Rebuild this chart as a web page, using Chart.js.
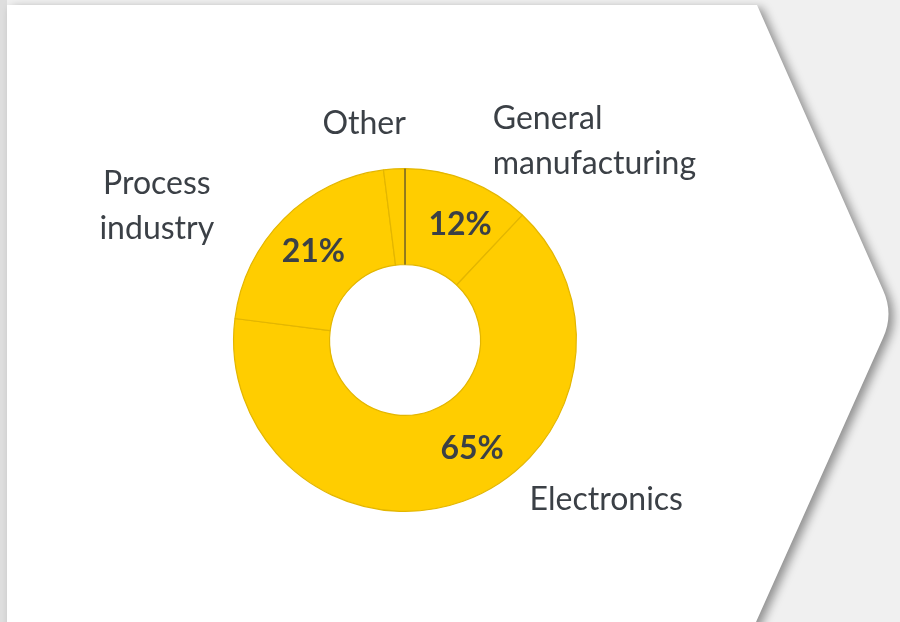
<!DOCTYPE html>
<html>
<head>
<meta charset="utf-8">
<script src="https://cdn.jsdelivr.net/npm/chart.js@4.4.0/dist/chart.umd.min.js"></script>
<style>
  html, body { margin: 0; padding: 0; background: #ececec; }
  #wrap { width: 900px; height: 622px; }
</style>
</head>
<body>
<div id="wrap"><canvas id="chart"></canvas></div>
<script>
// data
const categories = ["General manufacturing", "Electronics", "Process industry", "Other"];
const categoryLines = [["General", "manufacturing"], ["Electronics"], ["Process", "industry"], ["Other"]];
const shares = [12, 65, 21, 2];
const percentLabels = ["12%", "65%", "21%", ""];

// label placement, in units of the outer radius from the centre
const outerLabelLayout = [
  { dx: 0.512, dy: -1.29, align: "left" },
  { dx: 0.727, dy: 0.93, align: "left" },
  { dx: -1.448, dy: -0.913, align: "center" },
  { dx: -0.238, dy: -1.262, align: "center" },
];
const pctAngleShift = [4, -12, -1, 0]; // degrees

const TEXT_COLOR = "#3b4046";
const GOLD = "#FFCD00";

// white chevron panel behind the chart
const panelPlugin = {
  id: "panel",
  beforeDraw(chart) {
    const ctx = chart.ctx;
    ctx.save();
    ctx.fillStyle = "#f0f0f0";
    ctx.fillRect(0, 0, chart.width, chart.height);
    ctx.fillStyle = "#dedede";
    ctx.fillRect(0, 0, 7, chart.height);
    ctx.shadowColor = "rgba(0,0,0,0.4)";
    ctx.shadowBlur = 10;
    ctx.shadowOffsetX = 5;
    ctx.shadowOffsetY = 3;
    ctx.fillStyle = "#ffffff";
    ctx.beginPath();
    ctx.moveTo(7, 5);
    ctx.lineTo(757, 5);
    ctx.lineTo(883, 290);
    ctx.quadraticCurveTo(894, 314, 883, 338);
    ctx.lineTo(748, 640);
    ctx.lineTo(7, 640);
    ctx.closePath();
    ctx.fill();
    ctx.restore();
  },
};

const labelPlugin = {
  id: "labels",
  afterDatasetsDraw(chart) {
    const ctx = chart.ctx;
    const arcs = chart.getDatasetMeta(0).data;
    const first = arcs[0];
    const cx = first.x, cy = first.y, R = first.outerRadius;

    ctx.save();
    // dark seam at the start of the first slice
    ctx.strokeStyle = "#3a3a3a";
    ctx.lineWidth = 1;
    ctx.beginPath();
    ctx.moveTo(cx + Math.cos(first.startAngle) * first.innerRadius, cy + Math.sin(first.startAngle) * first.innerRadius);
    ctx.lineTo(cx + Math.cos(first.startAngle) * R, cy + Math.sin(first.startAngle) * R);
    ctx.stroke();

    // percentages inside the ring
    ctx.fillStyle = TEXT_COLOR;
    ctx.font = "bold 32px Lato";
    ctx.textAlign = "center";
    ctx.textBaseline = "middle";
    arcs.forEach((arc, i) => {
      if (!percentLabels[i]) return;
      const mid = (arc.startAngle + arc.endAngle) / 2 + (pctAngleShift[i] * Math.PI) / 180;
      const r = (arc.innerRadius + arc.outerRadius) / 2 + 4;
      ctx.fillText(percentLabels[i], cx + Math.cos(mid) * r, cy + Math.sin(mid) * r);
    });

    // category names outside
    ctx.font = "32px Lato";
    categoryLines.forEach((lines, i) => {
      const lay = outerLabelLayout[i];
      ctx.textAlign = lay.align;
      lines.forEach((line, j) => {
        ctx.fillText(line, cx + lay.dx * R, cy + lay.dy * R + j * 45);
      });
    });
    ctx.restore();
  },
};

new Chart(document.getElementById("chart"), {
  type: "doughnut",
  data: {
    labels: categories,
    datasets: [
      {
        data: shares,
        backgroundColor: GOLD,
        borderColor: "#E3B600",
        borderWidth: 1.2,
        hoverOffset: 0,
      },
    ],
  },
  options: {
    responsive: true,
    maintainAspectRatio: false,
    animation: false,
    cutout: "44%",
    layout: { padding: { left: 233, right: 323, top: 168, bottom: 110 } },
    plugins: {
      legend: { display: false },
      tooltip: { enabled: false },
    },
  },
  plugins: [panelPlugin, labelPlugin],
});
</script>
</body>
</html>
